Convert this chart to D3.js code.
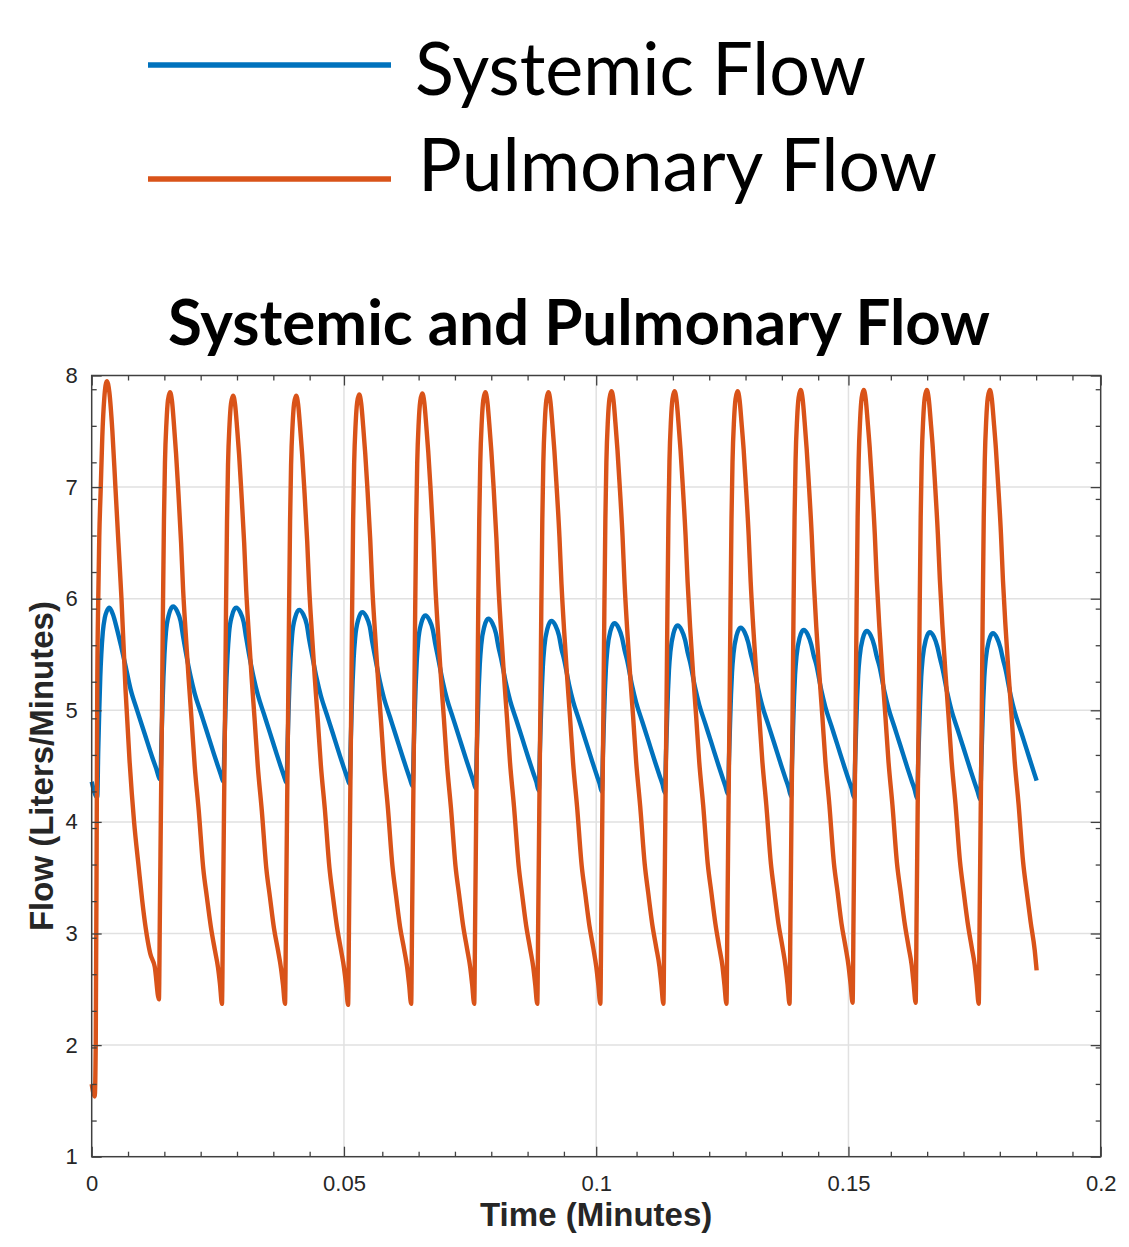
<!DOCTYPE html>
<html>
<head>
<meta charset="utf-8">
<script src="https://cdnjs.cloudflare.com/ajax/libs/d3/7.8.5/d3.min.js"></script>
<style>
  html, body { margin: 0; padding: 0; background: #ffffff; }
  svg { display: block; }
</style>
</head>
<body>
<script>
// ---------------- DATA ----------------
const seriesNames = ["Systemic Flow", "Pulmonary Flow"];
const chartTitle = "Systemic and Pulmonary Flow";
const xTitle = "Time (Minutes)";
const yTitle = "Flow (Liters/Minutes)";

const xMajorTicks = [0, 0.05, 0.1, 0.15, 0.2];
const yMajorTicks = [1, 2, 3, 4, 5, 6, 7, 8];
const xGridTicks = [0.05, 0.1, 0.15];
const yGridTicks = [2, 3, 4, 5, 6, 7];
const xMinorTicks = [0.0072, 0.0144, 0.0216, 0.0288, 0.0360, 0.0432, 0.0576, 0.0648, 0.0720,
  0.0792, 0.0864, 0.0936, 0.1080, 0.1152, 0.1224, 0.1296, 0.1368, 0.1440, 0.1584, 0.1656,
  0.1728, 0.1800, 0.1872, 0.1944];
const yMinorTicks = [7.877, 7.549, 7.222, 6.894, 6.566, 6.239, 5.911, 5.583, 5.256, 4.928,
  4.600, 4.273, 3.945, 3.618, 3.290, 2.962, 2.635, 2.307, 1.979, 1.652, 1.324];

// start times (minutes) of each heart beat (pulmonary trough)
const beatStarts = [0.01332, 0.02582, 0.03832, 0.05082, 0.06332, 0.07582, 0.08832,
  0.10082, 0.11332, 0.12582, 0.13832, 0.15082, 0.16332, 0.17582];

// ---- Pulmonary flow ----
const pulmonaryFirstT = [0, 0.0006, 0.0008, 0.0010, 0.0011, 0.0013, 0.0015, 0.0018, 0.0021,
  0.0025, 0.0030, 0.0035, 0.0041, 0.0047, 0.0053, 0.0059, 0.0067, 0.0075, 0.0084, 0.0093,
  0.0100, 0.0107, 0.0116, 0.0125];
const pulmonaryFirstV = [1.65, 1.54, 2.00, 4.00, 5.19, 6.00, 6.55, 7.00, 7.45, 7.80, 7.95,
  7.85, 7.50, 7.00, 6.50, 6.00, 5.19, 4.55, 4.00, 3.60, 3.30, 3.05, 2.82, 2.70];
const pulmonaryBeatOffsets = [0, 0.0002, 0.0004, 0.0006, 0.0008, 0.0010, 0.0012, 0.0015,
  0.0018, 0.0022, 0.0026, 0.0030, 0.0034, 0.0038, 0.0044, 0.0048, 0.0053, 0.0059, 0.0065,
  0.0071, 0.0079, 0.0088, 0.0095, 0.0103, 0.0111, 0.0117, 0.0121];
const pulmonaryBeats = [
  [2.41, 3.20, 4.10, 4.95, 5.90, 6.70, 7.22, 7.58, 7.78, 7.85, 7.77, 7.55, 7.30, 7.00, 6.50, 6.08, 5.70, 5.28, 4.90, 4.50, 4.10, 3.58, 3.33, 3.06, 2.85, 2.70, 2.55],
  [2.37, 3.18, 4.08, 4.94, 5.89, 6.69, 7.20, 7.56, 7.75, 7.82, 7.74, 7.53, 7.29, 6.99, 6.50, 6.08, 5.70, 5.28, 4.90, 4.50, 4.10, 3.58, 3.33, 3.05, 2.85, 2.69, 2.54],
  [2.37, 3.18, 4.08, 4.94, 5.89, 6.69, 7.20, 7.56, 7.75, 7.82, 7.74, 7.53, 7.29, 7.00, 6.51, 6.09, 5.71, 5.29, 4.91, 4.51, 4.11, 3.59, 3.33, 3.06, 2.85, 2.69, 2.54],
  [2.36, 3.18, 4.09, 4.94, 5.90, 6.70, 7.21, 7.57, 7.76, 7.83, 7.75, 7.54, 7.30, 7.01, 6.52, 6.10, 5.72, 5.30, 4.92, 4.52, 4.12, 3.60, 3.34, 3.06, 2.86, 2.70, 2.54],
  [2.37, 3.19, 4.09, 4.95, 5.90, 6.70, 7.21, 7.58, 7.77, 7.84, 7.76, 7.55, 7.31, 7.02, 6.53, 6.11, 5.72, 5.30, 4.92, 4.52, 4.12, 3.60, 3.35, 3.07, 2.86, 2.70, 2.54],
  [2.37, 3.19, 4.10, 4.95, 5.91, 6.71, 7.22, 7.59, 7.78, 7.85, 7.77, 7.56, 7.32, 7.03, 6.54, 6.12, 5.73, 5.31, 4.93, 4.53, 4.13, 3.61, 3.35, 3.07, 2.86, 2.70, 2.54],
  [2.37, 3.19, 4.10, 4.95, 5.91, 6.71, 7.22, 7.59, 7.78, 7.85, 7.77, 7.56, 7.32, 7.03, 6.55, 6.13, 5.73, 5.31, 4.93, 4.53, 4.13, 3.61, 3.36, 3.08, 2.87, 2.70, 2.54],
  [2.37, 3.20, 4.10, 4.96, 5.91, 6.72, 7.23, 7.60, 7.79, 7.86, 7.78, 7.57, 7.33, 7.04, 6.56, 6.14, 5.74, 5.32, 4.94, 4.54, 4.14, 3.62, 3.36, 3.08, 2.87, 2.71, 2.54],
  [2.37, 3.20, 4.10, 4.96, 5.91, 6.72, 7.23, 7.60, 7.79, 7.86, 7.78, 7.57, 7.33, 7.04, 6.56, 6.15, 5.74, 5.32, 4.94, 4.54, 4.14, 3.62, 3.37, 3.09, 2.87, 2.71, 2.54],
  [2.37, 3.20, 4.10, 4.96, 5.91, 6.72, 7.23, 7.60, 7.79, 7.86, 7.78, 7.57, 7.34, 7.05, 6.57, 6.15, 5.75, 5.33, 4.95, 4.55, 4.15, 3.63, 3.37, 3.09, 2.88, 2.71, 2.55],
  [2.37, 3.20, 4.11, 4.96, 5.92, 6.73, 7.24, 7.61, 7.80, 7.87, 7.79, 7.58, 7.34, 7.05, 6.57, 6.16, 5.75, 5.33, 4.95, 4.55, 4.15, 3.63, 3.38, 3.09, 2.88, 2.71, 2.55],
  [2.38, 3.21, 4.11, 4.96, 5.92, 6.73, 7.24, 7.61, 7.80, 7.87, 7.79, 7.58, 7.35, 7.06, 6.58, 6.16, 5.75, 5.33, 4.95, 4.55, 4.15, 3.63, 3.38, 3.10, 2.88, 2.72, 2.55],
  [2.38, 3.21, 4.11, 4.96, 5.92, 6.73, 7.24, 7.61, 7.80, 7.87, 7.79, 7.58, 7.35, 7.06, 6.58, 6.17, 5.76, 5.34, 4.96, 4.56, 4.16, 3.64, 3.38, 3.10, 2.88, 2.72, 2.55],
  [2.37, 3.21, 4.11, 4.96, 5.92, 6.73, 7.24, 7.61, 7.80, 7.87, 7.79, 7.58, 7.35, 7.06, 6.59, 6.17, 5.76, 5.34, 4.96, 4.56, 4.16, 3.64, 3.38, 3.10, 2.85]
];
const pulmonaryEnd = [0.1873, 2.67];

// ---- Systemic flow ----
const systemicFirstT = [0, 0.0011, 0.0013, 0.0015, 0.0017, 0.0019, 0.0022, 0.0026, 0.0030,
  0.0035, 0.0042, 0.0050, 0.0058, 0.0066, 0.0077, 0.0090, 0.0105, 0.0120, 0.0127];
const systemicFirstV = [4.36, 4.22, 4.65, 5.00, 5.30, 5.50, 5.70, 5.83, 5.89, 5.92, 5.86,
  5.73, 5.58, 5.42, 5.19, 5.00, 4.79, 4.58, 4.49];
const systemicBeatOffsets = [0.0003, 0.0005, 0.0007, 0.0009, 0.0011, 0.0014, 0.0020, 0.0028,
  0.0036, 0.0043, 0.0048, 0.0053, 0.0063, 0.0071, 0.0083, 0.0095, 0.0109, 0.0117, 0.0123];
const systemicBeats = [
  [4.38, 4.72, 5.02, 5.30, 5.50, 5.70, 5.86, 5.93, 5.89, 5.80, 5.66, 5.53, 5.30, 5.15, 4.98, 4.81, 4.61, 4.50, 4.42],
  [4.36, 4.71, 5.01, 5.29, 5.49, 5.69, 5.85, 5.92, 5.88, 5.79, 5.65, 5.52, 5.29, 5.14, 4.97, 4.80, 4.60, 4.49, 4.41],
  [4.35, 4.69, 4.99, 5.27, 5.47, 5.67, 5.83, 5.90, 5.86, 5.77, 5.63, 5.51, 5.28, 5.13, 4.96, 4.79, 4.59, 4.48, 4.40],
  [4.34, 4.68, 4.98, 5.26, 5.46, 5.65, 5.81, 5.88, 5.84, 5.75, 5.61, 5.49, 5.26, 5.11, 4.94, 4.77, 4.57, 4.46, 4.38],
  [4.32, 4.65, 4.95, 5.23, 5.43, 5.62, 5.78, 5.85, 5.81, 5.72, 5.59, 5.48, 5.25, 5.10, 4.93, 4.76, 4.56, 4.45, 4.37],
  [4.30, 4.63, 4.93, 5.21, 5.41, 5.59, 5.75, 5.82, 5.78, 5.69, 5.57, 5.47, 5.24, 5.09, 4.92, 4.75, 4.55, 4.44, 4.36],
  [4.28, 4.61, 4.91, 5.19, 5.39, 5.57, 5.73, 5.80, 5.76, 5.67, 5.55, 5.46, 5.23, 5.08, 4.91, 4.74, 4.54, 4.43, 4.35],
  [4.27, 4.59, 4.89, 5.17, 5.37, 5.55, 5.71, 5.78, 5.74, 5.65, 5.54, 5.45, 5.22, 5.07, 4.90, 4.73, 4.53, 4.42, 4.34],
  [4.26, 4.58, 4.88, 5.16, 5.36, 5.53, 5.69, 5.76, 5.72, 5.63, 5.52, 5.43, 5.20, 5.05, 4.88, 4.71, 4.51, 4.40, 4.32],
  [4.25, 4.56, 4.86, 5.14, 5.34, 5.51, 5.67, 5.74, 5.70, 5.61, 5.51, 5.42, 5.19, 5.04, 4.87, 4.70, 4.50, 4.39, 4.31],
  [4.23, 4.54, 4.84, 5.12, 5.32, 5.49, 5.65, 5.72, 5.68, 5.59, 5.49, 5.41, 5.18, 5.03, 4.86, 4.69, 4.49, 4.38, 4.30],
  [4.22, 4.53, 4.83, 5.11, 5.31, 5.48, 5.64, 5.71, 5.67, 5.58, 5.48, 5.40, 5.17, 5.02, 4.85, 4.68, 4.48, 4.37, 4.29],
  [4.21, 4.52, 4.82, 5.10, 5.30, 5.47, 5.63, 5.70, 5.66, 5.57, 5.47, 5.38, 5.15, 5.00, 4.83, 4.66, 4.46, 4.35, 4.27],
  [4.20, 4.51, 4.81, 5.09, 5.29, 5.46, 5.62, 5.69, 5.65, 5.56, 5.46, 5.37, 5.14, 4.99, 4.82, 4.65, 4.45]
];
const systemicEnd = [0.1873, 4.37];

const seriesColors = ["#0072BD", "#D95319"];

// ---------------- BUILD ----------------
function buildSeries(firstT, firstV, offsets, beats, endPt) {
  const pts = firstT.map((t, i) => [t, firstV[i]]);
  beats.forEach((row, k) => row.forEach((v, j) => pts.push([beatStarts[k] + offsets[j], v])));
  pts.push(endPt);
  return pts;
}
const systemic = buildSeries(systemicFirstT, systemicFirstV, systemicBeatOffsets, systemicBeats, systemicEnd);
const pulmonary = buildSeries(pulmonaryFirstT, pulmonaryFirstV, pulmonaryBeatOffsets, pulmonaryBeats, pulmonaryEnd);

const W = 1129, H = 1247;
const plot = { left: 91.7, right: 1100.7, top: 375.5, bottom: 1156.7 };

const svg = d3.select("body").append("svg").attr("width", W).attr("height", H);
const x = d3.scaleLinear().domain([0, 0.2]).range([plot.left, plot.right]);
const y = d3.scaleLinear().domain([1, 8]).range([plot.bottom, plot.top]);

const axisColor = "#404040";
const labelColor = "#262626";
const tickFont = "'Liberation Sans', Arial, Helvetica, sans-serif";

// grid
const grid = svg.append("g");
grid.selectAll("line.gx").data(xGridTicks).join("line")
  .attr("x1", d => x(d)).attr("x2", d => x(d)).attr("y1", y(1)).attr("y2", y(8))
  .attr("stroke", "#e1e1e1").attr("stroke-width", 1.5);
grid.selectAll("line.gy").data(yGridTicks).join("line")
  .attr("x1", x(0)).attr("x2", x(0.2)).attr("y1", d => y(d)).attr("y2", d => y(d))
  .attr("stroke", "#e1e1e1").attr("stroke-width", 1.5);

// lines
const line = d3.line().x(d => x(d[0])).y(d => y(d[1])).curve(d3.curveMonotoneX);
[systemic, pulmonary].forEach((s, i) => {
  svg.append("path").datum(s).attr("d", line)
    .attr("fill", "none").attr("stroke", seriesColors[i])
    .attr("stroke-width", 4.4).attr("stroke-linejoin", "round").attr("stroke-linecap", "butt");
});

// axes
function styleAxis(g) {
  g.select(".domain").remove();
  g.selectAll(".tick line").attr("stroke", axisColor).attr("stroke-width", 1.3);
  g.selectAll(".tick text").attr("fill", labelColor).attr("font-family", tickFont).attr("font-size", 22);
}
const fmt = d3.format("~g");
svg.append("g").attr("transform", `translate(0,${y(1)})`)
  .call(d3.axisBottom(x).tickValues(xMajorTicks).tickSize(-10).tickPadding(19).tickFormat(fmt)).call(styleAxis);
svg.append("g").attr("transform", `translate(0,${y(8)})`)
  .call(d3.axisTop(x).tickValues(xMajorTicks).tickSize(-10).tickFormat("")).call(styleAxis);
svg.append("g").attr("transform", `translate(${x(0)},0)`)
  .call(d3.axisLeft(y).tickValues(yMajorTicks).tickSize(-10).tickPadding(14).tickFormat(fmt)).call(styleAxis);
svg.append("g").attr("transform", `translate(${x(0.2)},0)`)
  .call(d3.axisRight(y).tickValues(yMajorTicks).tickSize(-10).tickFormat("")).call(styleAxis);
// minor
svg.append("g").attr("transform", `translate(0,${y(1)})`)
  .call(d3.axisBottom(x).tickValues(xMinorTicks).tickSize(-5).tickFormat("")).call(styleAxis);
svg.append("g").attr("transform", `translate(0,${y(8)})`)
  .call(d3.axisTop(x).tickValues(xMinorTicks).tickSize(-5).tickFormat("")).call(styleAxis);
svg.append("g").attr("transform", `translate(${x(0)},0)`)
  .call(d3.axisLeft(y).tickValues(yMinorTicks).tickSize(-5).tickFormat("")).call(styleAxis);
svg.append("g").attr("transform", `translate(${x(0.2)},0)`)
  .call(d3.axisRight(y).tickValues(yMinorTicks).tickSize(-5).tickFormat("")).call(styleAxis);

// box
svg.append("rect").attr("x", x(0)).attr("y", y(8)).attr("width", x(0.2) - x(0)).attr("height", y(1) - y(8))
  .attr("fill", "none").attr("stroke", axisColor).attr("stroke-width", 1.5);

// axis titles
svg.append("text").attr("x", (x(0) + x(0.2)) / 2).attr("y", 1226)
  .attr("text-anchor", "middle").attr("font-family", tickFont).attr("font-weight", "bold")
  .attr("font-size", 33).attr("fill", labelColor).text(xTitle);
svg.append("text").attr("transform", `translate(53,${(y(1) + y(8)) / 2}) rotate(-90)`)
  .attr("text-anchor", "middle").attr("font-family", tickFont).attr("font-weight", "bold")
  .attr("font-size", 33).attr("fill", labelColor).text(yTitle);

// chart title
svg.append("text").attr("x", 168).attr("y", 345)
  .attr("font-family", "Lato, 'Open Sans', sans-serif").attr("font-weight", "bold")
  .attr("font-size", 63).attr("fill", "#000").attr("textLength", 822).attr("lengthAdjust", "spacingAndGlyphs")
  .text(chartTitle);

// legend
const legendY = [65, 179];
const legendBase = [95, 191];
const legendTextX = [415, 418];
const legendLen = [451, 519];
seriesNames.forEach((name, i) => {
  svg.append("line").attr("x1", 148).attr("x2", 391).attr("y1", legendY[i]).attr("y2", legendY[i])
    .attr("stroke", seriesColors[i]).attr("stroke-width", 5.5);
  svg.append("text").attr("x", legendTextX[i]).attr("y", legendBase[i])
    .attr("font-family", "Lato, 'Open Sans', sans-serif").attr("font-size", 74).attr("fill", "#000")
    .attr("textLength", legendLen[i]).attr("lengthAdjust", "spacingAndGlyphs")
    .text(name);
});
</script>
</body>
</html>
